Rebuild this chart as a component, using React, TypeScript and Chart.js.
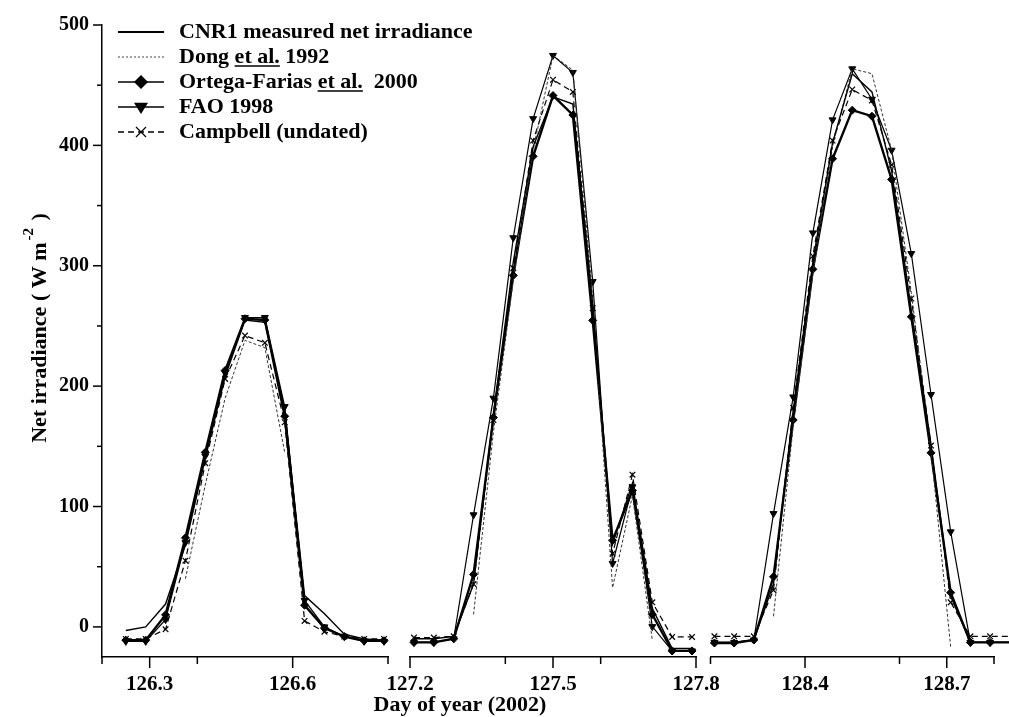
import React, { useEffect, useRef } from 'react';
import { Chart, registerables } from 'chart.js';

Chart.register(...registerables);

const W = 1009;
const H = 717;
const FONT = "'Liberation Serif', 'Times New Roman', serif";

// ---- axes ----
const Y_MIN = -25;
const Y_MAX = 500;
const Y_TICKS = [0, 50, 100, 150, 200, 250, 300, 350, 400, 450, 500];
const Y_LABELED = [0, 100, 200, 300, 400, 500];

const P1_RANGE = [126.2, 126.8];
const P1_TICKS = [126.2, 126.3, 126.4, 126.6, 126.8];
const P1_LABELS = [126.3, 126.6];
const P2_RANGE = [127.2, 127.8];
const P2_TICKS = [127.2, 127.4, 127.5, 127.6, 127.8];
const P2_LABELS = [127.2, 127.5, 127.8];
const P3_RANGE = [128.2, 128.8];
const P3_TICKS = [128.2, 128.4, 128.6, 128.7, 128.8];
const P3_LABELS = [128.4, 128.7];

// ---- data: hourly values per day (W m-2) ----
const P1_DAY = 126;
const P1_HOURS = [6, 7, 8, 9, 10, 11, 12, 13, 14, 15, 16, 17, 18, 19];
const P1_CNR1 = [-3, 0, 19, 68, 140, 208, 255, 253, 180, 26, 11, -6, -10, -11];
const P1_DONG = [null, null, null, 40, 118, 190, 238, 232, 145, null, null, null, null, null];
const P1_ORTEGA = [-11, -11, 10, 74, 145, 213, 256, 255, 175, 18, -1, -8, -11.5, -11.5];
const P1_FAO = [-12, -12, 6, 70, 142, 211, 257, 257, 183, 22, 0, -8, -12, -12];
const P1_CAMPBELL = [-10, -10, -2, 55, 136, 206, 242, 236, 170, 5, -4, -8, -10, -10];

const P2_DAY = 127;
const P2_HOURS = [5, 6, 7, 8, 9, 10, 11, 12, 13, 14, 15, 16, 17, 18, 19];
const P2_CNR1 = [-10, -10, -8, 35, 175, 300, 395, 436, 430, 265, 68, 118, 15, -18, -18];
const P2_DONG = [null, null, null, 10, 160, 285, 392, 470, 458, 270, 32, 108, -11, null, null];
const P2_ORTEGA = [-13, -13, -10, 43, 172, 289, 387, 437, 421, 252, 71, 112, 10, -20, -20];
const P2_FAO = [-13, -13, -10, 92, 188, 320, 418, 470, 456, 284, 52, 115, 0, -20, -20];
const P2_CAMPBELL = [-9, -9, -8, 35, 170, 295, 400, 450, 440, 262, 60, 125, 20, -8.5, -8.5];

const P3_DAY = 128;
const P3_HOURS = [5, 6, 7, 8, 9, 10, 11, 12, 13, 14, 15, 16, 17, 18, 19, 20];
const P3_CNR1 = [-13, -13, -11, 35, 178, 300, 398, 455, 440, 375, 260, 150, 25, -13, -13, -13];
const P3_DONG = [null, null, null, 8.5, 165, 290, 395, 459, 455, 392, 275, 145, -17, null, null, null];
const P3_ORTEGA = [-13.5, -13.5, -11, 41, 170, 294, 385, 425, 420, 368, 255, 143, 28, -13, -13, -13];
const P3_FAO = [-13, -13, -11, 93, 189, 324, 417, 459, 434, 392, 307, 191, 78, -13, -13, -13];
const P3_CAMPBELL = [-8, -8, -8, 30, 180, 305, 400, 442, 433, 380, 270, 149, 20, -8, -8, -8];

const SERIES_LABELS = [
  'CNR1 measured net irradiance',
  'Dong et al. 1992',
  'Ortega-Farias et al. 2000',
  'FAO 1998',
  'Campbell (undated)',
];

// legend text parts: [text, underlined]
const LEGEND_PARTS: [string, boolean][][] = [
  [['CNR1 measured net irradiance', false]],
  [['Dong ', false], ['et al.', true], [' 1992', false]],
  [['Ortega-Farias ', false], ['et al.', true], ['  2000', false]],
  [['FAO 1998', false]],
  [['Campbell (undated)', false]],
];

const STYLES: any[] = [
  { borderColor: '#000', borderWidth: 1.4, pointRadius: 0 },
  { borderColor: '#333', borderWidth: 1, borderDash: [3, 2], pointRadius: 0 },
  { borderColor: '#000', borderWidth: 2.4, pointStyle: 'rectRot', pointRadius: 4, pointBackgroundColor: '#000', pointBorderColor: '#000', pointBorderWidth: 1 },
  { borderColor: '#000', borderWidth: 1.2, pointStyle: 'triangle', pointRotation: 180, pointRadius: 4, pointBackgroundColor: '#000', pointBorderColor: '#000', pointBorderWidth: 1 },
  { borderColor: '#000', borderWidth: 1.2, borderDash: [6, 4], pointStyle: 'crossRot', pointRadius: 4, pointBorderColor: '#000', pointBorderWidth: 1.2 },
];

type PanelDef = {
  day: number;
  hours: number[];
  series: (number | null)[][];
  range: number[];
  ticks: number[];
  labels: number[];
  left: number;
  right: number;
  first: boolean;
};

const PANELS: PanelDef[] = [
  { day: P1_DAY, hours: P1_HOURS, series: [P1_CNR1, P1_DONG, P1_ORTEGA, P1_FAO, P1_CAMPBELL], range: P1_RANGE, ticks: P1_TICKS, labels: P1_LABELS, left: 102, right: 388, first: true },
  { day: P2_DAY, hours: P2_HOURS, series: [P2_CNR1, P2_DONG, P2_ORTEGA, P2_FAO, P2_CAMPBELL], range: P2_RANGE, ticks: P2_TICKS, labels: P2_LABELS, left: 410, right: 696, first: false },
  { day: P3_DAY, hours: P3_HOURS, series: [P3_CNR1, P3_DONG, P3_ORTEGA, P3_FAO, P3_CAMPBELL], range: P3_RANGE, ticks: P3_TICKS, labels: P3_LABELS, left: 710.5, right: 996, first: false },
];

const CHART_TOP = 19;
const CHART_BOTTOM = 657;

const near = (a: number, b: number) => Math.abs(a - b) < 1e-6;

function drawMarker(ctx: CanvasRenderingContext2D, kind: number, x: number, y: number, r: number) {
  ctx.save();
  ctx.setLineDash([]);
  ctx.fillStyle = '#000';
  ctx.strokeStyle = '#000';
  if (kind === 2) {
    ctx.beginPath();
    ctx.moveTo(x, y - r);
    ctx.lineTo(x + r, y);
    ctx.lineTo(x, y + r);
    ctx.lineTo(x - r, y);
    ctx.closePath();
    ctx.fill();
  } else if (kind === 3) {
    ctx.beginPath();
    ctx.moveTo(x - r, y - r * 0.6);
    ctx.lineTo(x + r, y - r * 0.6);
    ctx.lineTo(x, y + r);
    ctx.closePath();
    ctx.fill();
  } else if (kind === 4) {
    ctx.lineWidth = 1.2;
    ctx.beginPath();
    ctx.moveTo(x - r, y - r);
    ctx.lineTo(x + r, y + r);
    ctx.moveTo(x - r, y + r);
    ctx.lineTo(x + r, y - r);
    ctx.stroke();
  }
  ctx.restore();
}

const decorPlugin = (p: PanelDef) => ({
  id: 'decor',
  afterDraw(chart: any) {
    const ctx: CanvasRenderingContext2D = chart.ctx;
    const xs = chart.scales.x;
    const ys = chart.scales.y;
    const { left, bottom } = chart.chartArea;
    ctx.save();
    ctx.strokeStyle = '#000';
    ctx.lineWidth = 1.5;
    ctx.setLineDash([]);
    // x ticks
    p.ticks.forEach((t) => {
      const px = xs.getPixelForValue(t);
      const len = p.labels.some((l) => near(l, t)) ? 11 : 7;
      ctx.beginPath();
      ctx.moveTo(px, bottom);
      ctx.lineTo(px, bottom + len);
      ctx.stroke();
    });
    if (p.first) {
      // y ticks
      Y_TICKS.forEach((v) => {
        const py = ys.getPixelForValue(v);
        const len = v % 100 === 0 ? 9 : 5;
        ctx.beginPath();
        ctx.moveTo(left - len, py);
        ctx.lineTo(left, py);
        ctx.stroke();
      });
      // y title
      ctx.fillStyle = '#000';
      const mainFont = `bold 22px ${FONT}`;
      const supFont = `bold 15px ${FONT}`;
      const mainTxt = 'Net irradiance ( W m';
      const supTxt = '-2';
      const endTxt = ' )';
      ctx.font = mainFont;
      const w1 = ctx.measureText(mainTxt).width;
      const w3 = ctx.measureText(endTxt).width;
      ctx.font = supFont;
      const w2 = ctx.measureText(supTxt).width + 4;
      const total = w1 + w2 + w3;
      ctx.save();
      ctx.translate(46, 328);
      ctx.rotate(-Math.PI / 2);
      ctx.textBaseline = 'alphabetic';
      ctx.textAlign = 'left';
      const sx = -total / 2;
      ctx.font = mainFont;
      ctx.fillText(mainTxt, sx, 0);
      ctx.font = supFont;
      ctx.fillText(supTxt, sx + w1 + 2, -13);
      ctx.font = mainFont;
      ctx.fillText(endTxt, sx + w1 + w2, 0);
      ctx.restore();
      // x title
      ctx.font = `bold 22px ${FONT}`;
      ctx.textAlign = 'center';
      ctx.textBaseline = 'middle';
      ctx.fillText('Day of year (2002)', 460, 705);
      // legend
      const x0 = 118;
      const x1 = 164;
      const tx = 179;
      for (let i = 0; i < 5; i++) {
        const y = 32 + i * 25;
        ctx.save();
        ctx.strokeStyle = i === 1 ? '#444' : '#000';
        ctx.lineWidth = i === 0 ? 2 : i === 1 ? 1 : 1.5;
        ctx.setLineDash(i === 1 ? [2, 2] : i === 4 ? [6, 4] : []);
        ctx.beginPath();
        ctx.moveTo(x0, y);
        ctx.lineTo(x1, y);
        ctx.stroke();
        ctx.restore();
        if (i >= 2) drawMarker(ctx, i, (x0 + x1) / 2, y, i === 4 ? 5 : 7);
        ctx.font = `bold 22px ${FONT}`;
        ctx.fillStyle = '#000';
        ctx.textAlign = 'left';
        ctx.textBaseline = 'middle';
        let cx = tx;
        LEGEND_PARTS[i].forEach(([txt, ul]) => {
          ctx.fillText(txt, cx, y);
          const w = ctx.measureText(txt).width;
          if (ul) {
            ctx.save();
            ctx.lineWidth = 1.5;
            ctx.setLineDash([]);
            ctx.beginPath();
            ctx.moveTo(cx, y + 9);
            ctx.lineTo(cx + w, y + 9);
            ctx.stroke();
            ctx.restore();
          }
          cx += w;
        });
      }
    }
    ctx.restore();
  },
});

function PanelChart({ p }: { p: PanelDef }) {
  const ref = useRef<HTMLCanvasElement | null>(null);
  useEffect(() => {
    if (!ref.current) return;
    const datasets = p.series.map((vals, si) => ({
      label: SERIES_LABELS[si],
      data: p.hours.map((h, i) => ({ x: p.day + h / 24, y: vals[i] })),
      fill: false,
      tension: 0,
      spanGaps: false,
      clip: { left: 10, top: 10, right: 20, bottom: 10 },
      ...STYLES[si],
    }));
    const chart = new Chart(ref.current, {
      type: 'line',
      data: { datasets },
      options: {
        animation: false,
        responsive: false,
        devicePixelRatio: 1,
        layout: {
          padding: { left: p.first ? 0 : p.left, right: W - p.right, top: CHART_TOP, bottom: 0 },
        },
        plugins: { legend: { display: false }, tooltip: { enabled: false } },
        scales: {
          x: {
            type: 'linear',
            min: p.range[0],
            max: p.range[1],
            grid: { display: false, drawTicks: false },
            border: { display: true, color: '#000', width: 1.5 },
            afterBuildTicks: (s: any) => {
              s.ticks = p.ticks.map((v) => ({ value: v }));
            },
            afterFit: (s: any) => {
              s.height = H - CHART_BOTTOM;
            },
            ticks: {
              autoSkip: false,
              maxRotation: 0,
              minRotation: 0,
              padding: 15,
              color: '#000',
              font: { family: FONT, size: 21, weight: 'bold' },
              callback: (v: any) => (p.labels.some((l) => near(l, Number(v))) ? Number(v).toFixed(1) : ''),
            },
          },
          y: {
            type: 'linear',
            display: p.first,
            min: Y_MIN,
            max: Y_MAX,
            grid: { display: false, drawTicks: false },
            border: { display: true, color: '#000', width: 1.5 },
            afterBuildTicks: (s: any) => {
              s.ticks = Y_TICKS.map((v) => ({ value: v }));
            },
            afterFit: (s: any) => {
              s.width = p.first ? p.left : 0;
            },
            ticks: {
              padding: 13,
              color: '#000',
              font: { family: FONT, size: 20, weight: 'bold' },
              callback: (v: any) => (Y_LABELED.includes(Number(v)) ? String(v) : ''),
            },
          },
        },
      } as any,
      plugins: [decorPlugin(p)],
    });
    return () => chart.destroy();
  }, [p]);
  return (
    <canvas
      ref={ref}
      width={W}
      height={H}
      style={{ position: 'absolute', left: 0, top: 0, width: W, height: H }}
    />
  );
}

export default function App() {
  return (
    <div style={{ position: 'absolute', left: 0, top: 0, width: W, height: H, background: '#fff', overflow: 'hidden' }}>
      {PANELS.map((p, i) => (
        <PanelChart key={i} p={p} />
      ))}
    </div>
  );
}
